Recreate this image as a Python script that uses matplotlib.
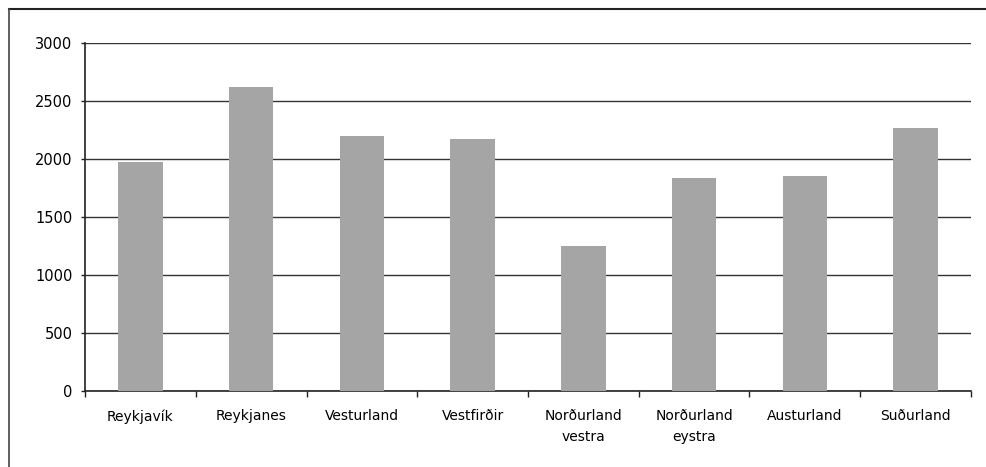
import numpy as np
import matplotlib.pyplot as plt

regions = ['Reykjavík', 'Reykjanes', 'Vesturland', 'Vestfirðir',
           'Norðurland\nvestra', 'Norðurland\neystra', 'Austurland', 'Suðurland']
values = [1970, 2620, 2200, 2170, 1250, 1840, 1850, 2270]
yticks = [0, 500, 1000, 1500, 2000, 2500, 3000]

plt.rcParams['font.family'] = 'DejaVu Sans'

fig = plt.figure(figsize=(9.86, 4.67), dpi=100)
ax = fig.add_axes([85 / 986, 1 - 391 / 467, (971 - 85) / 986, (391 - 43) / 467])

x = np.arange(len(regions))
ax.bar(x, values, width=0.4, color='#a5a5a5', zorder=3, linewidth=0)

ax.set_xlim(-0.5, len(regions) - 0.5)
ax.set_ylim(0, 3000)
ax.set_yticks(yticks)
ax.set_yticklabels([str(v) for v in yticks], fontsize=10.5)
ax.yaxis.grid(True, color='#333333', linewidth=1.0, zorder=1)
ax.tick_params(axis='y', length=3, width=1, pad=6, color='#222222')

# category labels centered, ticks at category boundaries
ax.set_xticks(x)
ax.set_xticklabels(regions, fontsize=10, linespacing=1.6, va='top')
ax.tick_params(axis='x', length=0, pad=13)
ax.set_xticks(np.arange(len(regions) + 1) - 0.5, minor=True)
ax.tick_params(axis='x', which='minor', length=4, width=1, color='#222222')

for side in ['top', 'right']:
    ax.spines[side].set_visible(False)
for side in ['left', 'bottom']:
    ax.spines[side].set_color('#222222')
    ax.spines[side].set_linewidth(1.2)

# outer frame (top and left edges only visible in the scan)
fig.add_artist(plt.Line2D([9 / 986, 1.0], [1 - 9 / 467, 1 - 9 / 467],
                          color='#222222', linewidth=1.5))
fig.add_artist(plt.Line2D([9 / 986, 9 / 986], [0, 1 - 9 / 467],
                          color='#444444', linewidth=1.2))

fig.savefig('out.png', dpi=100)
